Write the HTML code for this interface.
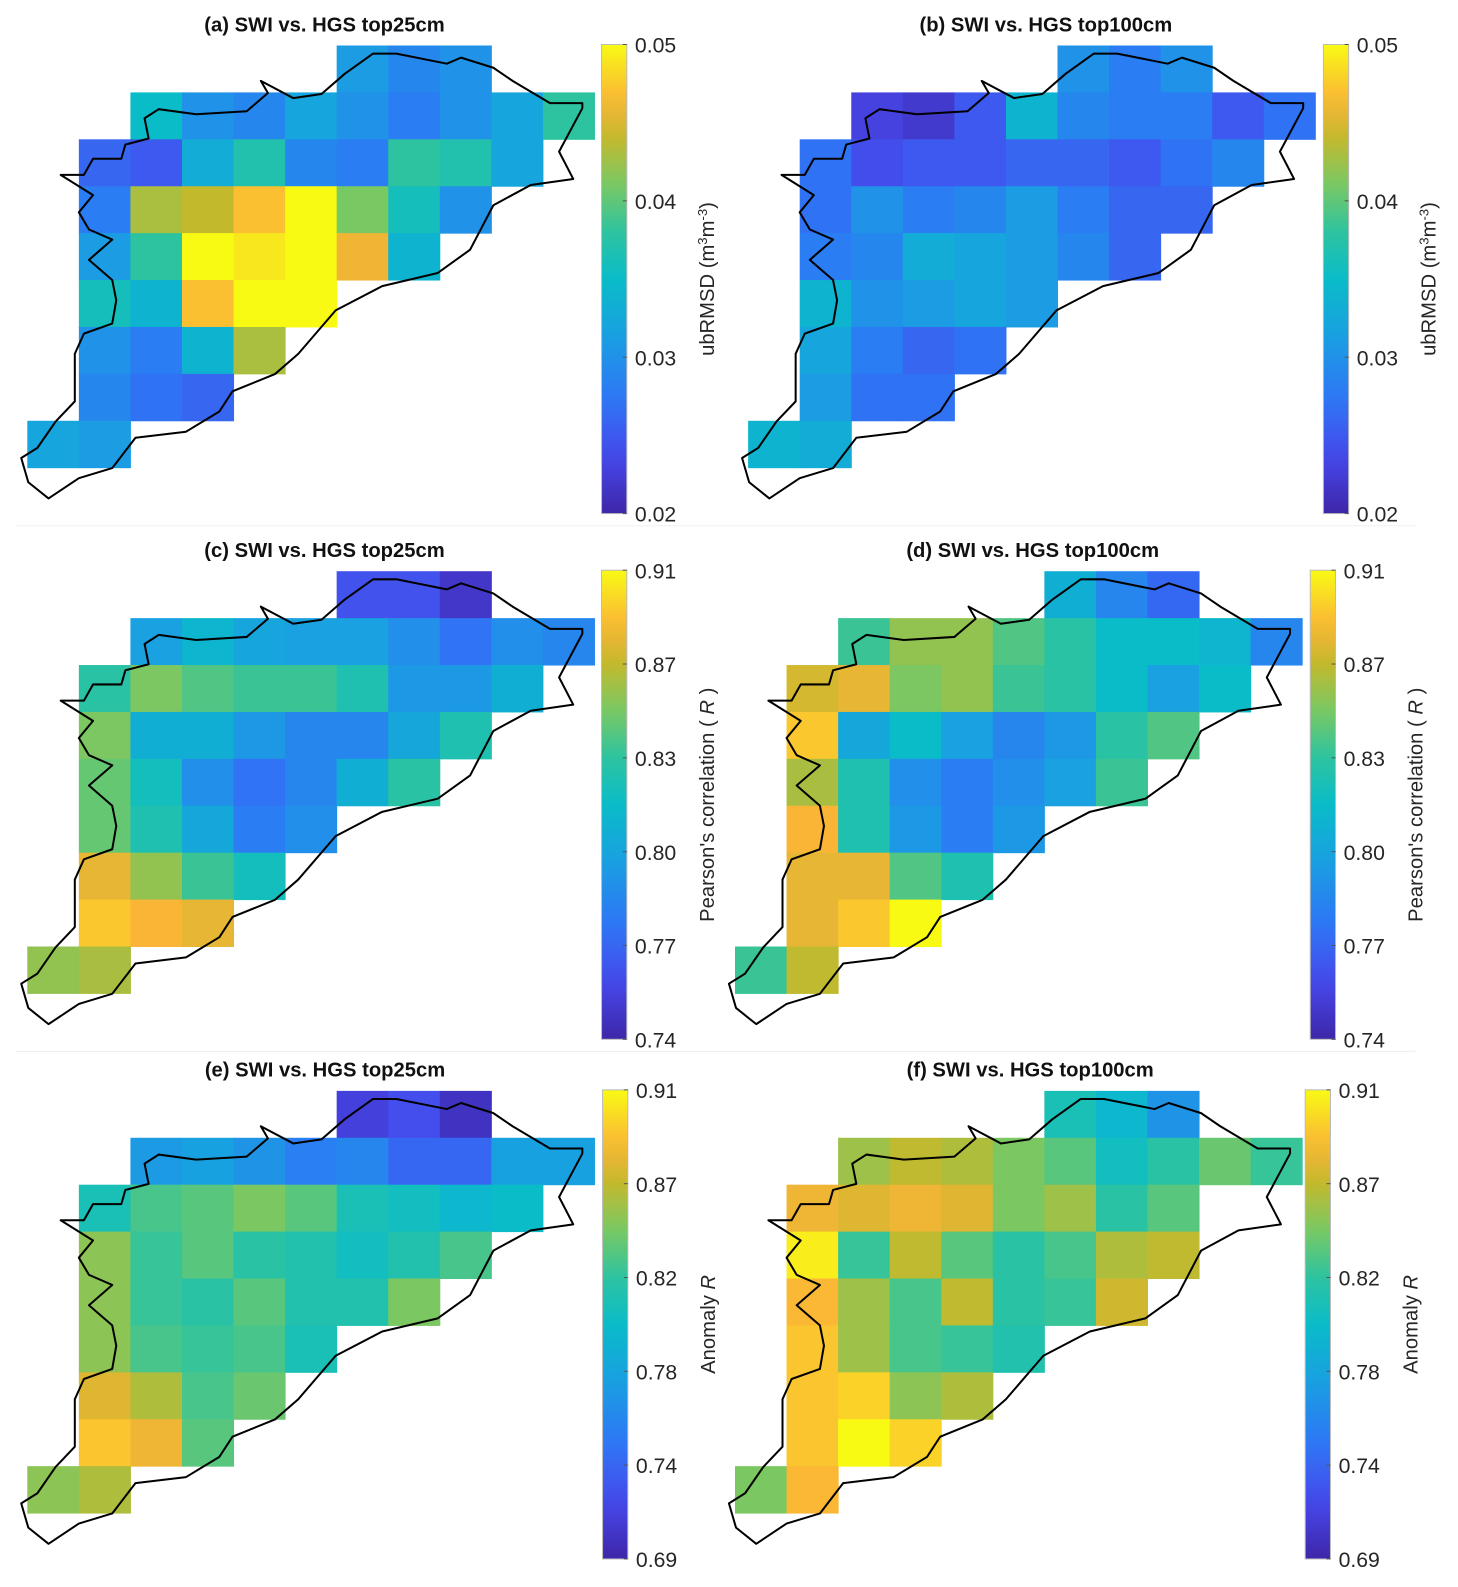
<!DOCTYPE html>
<html><head><meta charset="utf-8">
<style>
html,body{margin:0;padding:0;background:#fff;}
svg{display:block;font-family:"Liberation Sans",Arial,sans-serif;}
</style></head>
<body>
<svg id="fig" width="1458" height="1587" viewBox="0 0 1458 1587" xmlns="http://www.w3.org/2000/svg">
<g id="root" transform="scale(1.011)"></g>
</svg>
<script>
// ---- data arrays: each row lists [startCol, values...] ----
const rowsA = [[6,0.031,0.029,0.030],[2,0.035,0.030,0.029,0.032,0.030,0.028,0.030,0.032,0.038],[1,0.026,0.025,0.033,0.037,0.029,0.028,0.038,0.037,0.032],[1,0.028,0.043,0.044,0.047,0.050,0.041,0.036,0.030],[1,0.031,0.038,0.050,0.049,0.050,0.046,0.034],[1,0.036,0.034,0.047,0.050,0.050],[1,0.030,0.028,0.034,0.043],[1,0.029,0.027,0.026],[0,0.032,0.031]];
const rowsB = [[6,0.030,0.028,0.030],[2,0.023,0.022,0.025,0.034,0.029,0.028,0.028,0.025,0.027],[1,0.027,0.024,0.025,0.025,0.026,0.026,0.025,0.027,0.029],[1,0.027,0.030,0.028,0.029,0.031,0.028,0.026,0.026],[1,0.028,0.029,0.033,0.032,0.031,0.029,0.026],[1,0.034,0.030,0.031,0.032,0.031],[1,0.032,0.028,0.026,0.027],[1,0.031,0.027,0.027],[0,0.034,0.033]];
const rowsC = [[6,0.765,0.765,0.75],[2,0.805,0.82,0.808,0.805,0.805,0.795,0.78,0.795,0.79],[1,0.84,0.86,0.85,0.845,0.845,0.835,0.80,0.80,0.815],[1,0.86,0.815,0.815,0.80,0.79,0.79,0.81,0.835],[1,0.855,0.83,0.795,0.78,0.79,0.815,0.84],[1,0.855,0.835,0.81,0.785,0.795],[1,0.885,0.865,0.845,0.83],[1,0.895,0.89,0.885],[0,0.865,0.87]];
const rowsD = [[6,0.815,0.79,0.775],[2,0.845,0.865,0.865,0.85,0.84,0.825,0.825,0.82,0.79],[1,0.88,0.885,0.86,0.865,0.845,0.84,0.825,0.805,0.825],[1,0.895,0.81,0.825,0.805,0.79,0.80,0.84,0.85],[1,0.87,0.835,0.795,0.785,0.795,0.805,0.845],[1,0.89,0.835,0.80,0.785,0.80],[1,0.885,0.885,0.85,0.835],[1,0.885,0.895,0.91],[0,0.845,0.875]];
const rowsE = [[6,0.71,0.72,0.70],[2,0.77,0.775,0.765,0.75,0.755,0.735,0.735,0.775,0.775],[1,0.81,0.83,0.835,0.845,0.835,0.81,0.805,0.795,0.80],[1,0.85,0.825,0.835,0.82,0.815,0.805,0.815,0.83],[1,0.85,0.825,0.82,0.835,0.815,0.815,0.845],[1,0.85,0.83,0.825,0.83,0.81],[1,0.875,0.86,0.83,0.84],[1,0.89,0.88,0.835],[0,0.85,0.86]];
const rowsF = [[6,0.81,0.795,0.765],[2,0.855,0.865,0.86,0.845,0.835,0.805,0.82,0.84,0.825],[1,0.88,0.875,0.88,0.875,0.845,0.855,0.82,0.835],[1,0.905,0.825,0.865,0.835,0.82,0.83,0.86,0.865],[1,0.885,0.855,0.83,0.865,0.82,0.825,0.87],[1,0.89,0.855,0.83,0.825,0.815],[1,0.89,0.895,0.85,0.86],[1,0.89,0.91,0.895],[0,0.845,0.885]];
const ticksA = ["0.02","0.03","0.04","0.05"];
const ticksC = ["0.74","0.77","0.80","0.83","0.87","0.91"];
const ticksE = ["0.69","0.74","0.78","0.82","0.87","0.91"];

const panels = [
 {id:'a',title:'(a) SWI vs. HGS top25cm',rows:rowsA,min:0.02,max:0.05,ticks:ticksA,x0:27,y0:45,cb:595,label:'ubRMSD'},
 {id:'b',title:'(b) SWI vs. HGS top100cm',rows:rowsB,min:0.02,max:0.05,ticks:ticksA,x0:740,y0:45,cb:1309,label:'ubRMSD'},
 {id:'c',title:'(c) SWI vs. HGS top25cm',rows:rowsC,min:0.74,max:0.91,ticks:ticksC,x0:27,y0:565,cb:595,label:'pearson'},
 {id:'d',title:'(d) SWI vs. HGS top100cm',rows:rowsD,min:0.74,max:0.91,ticks:ticksC,x0:727,y0:565,cb:1296,label:'pearson'},
 {id:'e',title:'(e) SWI vs. HGS top25cm',rows:rowsE,min:0.69,max:0.91,ticks:ticksE,x0:27,y0:1079,cb:596,label:'anomaly'},
 {id:'f',title:'(f) SWI vs. HGS top100cm',rows:rowsF,min:0.69,max:0.91,ticks:ticksE,x0:727,y0:1079,cb:1291,label:'anomaly'}
];
const CW=51, CH=46.4, CBW=25, CBH=464;
const stops=[[0,62,38,168],[0.12,70,72,235],[0.25,45,120,245],[0.38,25,160,225],[0.5,10,188,200],[0.6,45,195,160],[0.7,120,200,100],[0.8,195,185,45],[0.88,250,180,55],[1,249,250,20]];
function parula(t){t=Math.max(0,Math.min(1,t));for(let i=1;i<stops.length;i++){if(t<=stops[i][0]){const a=stops[i-1],b=stops[i],f=(t-a[0])/(b[0]-a[0]);return `rgb(${Math.round(a[1]+f*(b[1]-a[1]))},${Math.round(a[2]+f*(b[2]-a[2]))},${Math.round(a[3]+f*(b[3]-a[3]))})`;}}return 'rgb(249,250,20)';}
// outline relative to grid origin of panel (a)
const outlineAbs=[[21,453],[28,477],[48,493],[78,473],[111,463],[134,433],[184,427],[217,407],[230,387],[272,370],[295,350],[332,307],[378,283],[433,270],[465,247],[488,203],[525,183],[567,177],[553,150],[576,107],[576,102],[544,102],[507,80],[488,67],[456,57],[442,63],[392,53],[369,53],[341,73],[318,93],[290,97],[258,80],[265,92],[244,110],[194,113],[157,108],[143,117],[147,137],[124,143],[120,157],[92,157],[83,173],[60,173],[92,193],[78,210],[88,227],[111,237],[88,257],[111,277],[115,297],[111,320],[83,330],[74,350],[74,397],[55,417],[37,443]];
const NS='http://www.w3.org/2000/svg';
const root=document.getElementById('root');
function mk(tag,attrs,parent){const e=document.createElementNS(NS,tag);for(const k in attrs)e.setAttribute(k,attrs[k]);(parent||root).appendChild(e);return e;}
panels.forEach(p=>{
  const g=mk('g',{});
  
  
  const cx=(p.x0+p.cb)/2+10;
  const t=mk('text',{x:cx,y:p.y0-14,'text-anchor':'middle','font-size':'20','font-weight':'bold',fill:'#111'},g);
  t.textContent=p.title;
  
  
  const xs=c=>p.x0+c*CW, ys=r=>p.y0+r*CH;
  p.rows.forEach((row,r)=>{
    for(let i=1;i<row.length;i++){
      const c=row[0]+i-1;
      const rc=mk('rect',{x:xs(c),y:ys(r),width:CW+0.5,height:CH+0.5,fill:parula((row[i]-p.min)/(p.max-p.min))},g);
      
      
    }
  });
  const dx=p.x0-27, dy=p.y0-45;
  const pts=outlineAbs.map(q=>(q[0]+dx)+','+(q[1]+dy)).join(' ');
  const pl=mk('polygon',{points:pts,fill:'none',stroke:'#000','stroke-width':'2','stroke-linejoin':'round'},g);
  
  
  // colorbar
  const cbg=mk('g',{},g);
  
  
  const gid='grad'+p.id;
  const defs=mk('defs',{},cbg);
  const lg=mk('linearGradient',{id:gid,x1:0,y1:1,x2:0,y2:0},defs);
  for(let i=0;i<=20;i++){mk('stop',{offset:(i/20),'stop-color':parula(i/20)},lg);}
  const cy0=p.y0-1;
  mk('rect',{x:p.cb,y:cy0,width:CBW,height:CBH,fill:'url(#'+gid+')',stroke:'#bbb','stroke-width':'1'},cbg);
  const n=p.ticks.length;
  p.ticks.forEach((lab,i)=>{
    const y=cy0+CBH-i*CBH/(n-1);
    mk('line',{x1:p.cb+CBW-4,x2:p.cb+CBW,y1:y,y2:y,stroke:'#555','stroke-width':'1'},cbg);
    const tt=mk('text',{x:p.cb+CBW+8,y:y+8,'font-size':'21',fill:'#262626'},cbg);
    tt.textContent=lab;
    
    
  });
  const lx=p.cb+CBW+86, ly=cy0+CBH/2;
  const lt=mk('text',{x:lx,y:ly,'font-size':'20',fill:'#262626','text-anchor':'middle',transform:`rotate(-90 ${lx} ${ly})`},cbg);
  
  
  if(p.label==='ubRMSD'){lt.innerHTML='ubRMSD (m<tspan baseline-shift="super" font-size="13">3</tspan>m<tspan baseline-shift="super" font-size="13">-3</tspan>)';}
  else if(p.label==='pearson'){lt.innerHTML="Pearson's correlation ( <tspan font-style='italic'>R</tspan> )";}
  else {lt.innerHTML="Anomaly  <tspan font-style='italic'>R</tspan>";}
});
// separators
[520,1040].forEach(y=>{const l=mk('line',{x1:15,x2:1400,y1:y,y2:y,stroke:'#f0f0f0','stroke-width':'1'});

});
</script>
</body></html>
